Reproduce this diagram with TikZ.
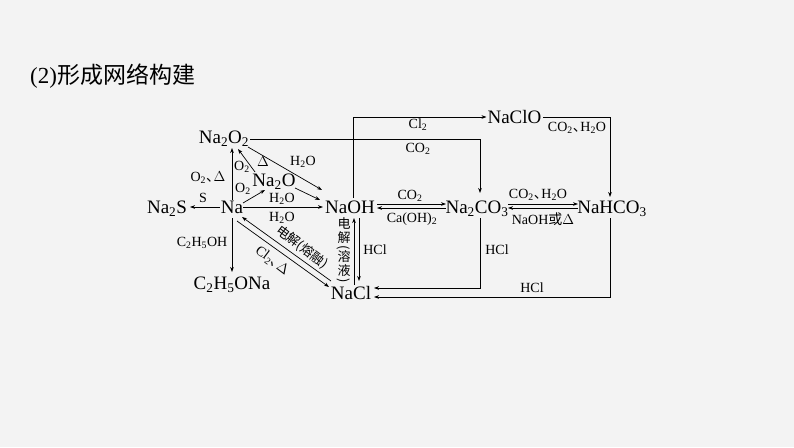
\documentclass[tikz,border=0pt]{standalone}
\usepackage{fontspec}
\usepackage{graphicx}
\setmainfont{Liberation Serif}
\newfontfamily\cjk{Noto Sans CJK SC}
\usetikzlibrary{arrows.meta}
\newcommand\sbs[1]{\textsubscript{#1}}
\newcommand\dun{\hbox to 0.55em{\cjk 、\hss}}
\newcommand\vchar[1]{\hbox to 1em{\hss\vrule height 0.86em depth 0.14em width 0pt #1\hss}}
\newcommand\vpar[1]{\hbox to 1em{\hss\rotatebox{-90}{#1}\hss}}
\definecolor{bgc}{RGB}{243,243,243}
\begin{document}
\begin{tikzpicture}[x=1pt,y=-1pt,
  chem/.style={inner sep=0pt, font=\fontsize{19}{20}\selectfont, text height=13pt, text depth=4pt},
  lab/.style={inner sep=0pt, font=\fontsize{14}{15}\selectfont, text height=10pt, text depth=3pt},
  cjklab/.style={inner sep=0pt, font=\fontsize{13}{13}\selectfont},
  arr/.style={-{Stealth[length=5pt,width=3.6pt]}, line width=0.7pt},
]
\fill[bgc] (0,0) rectangle (794,447);
\useasboundingbox (0,0) rectangle (794,447);

\node[anchor=base west, inner sep=0pt, font=\fontsize{23}{25}\selectfont] (title) at (30,83) {(2)\cjk 形成网络构建};

% main species
\node[chem] (na2o2) at (224,139) {Na\sbs{2}O\sbs{2}};
\node[chem] (na2o) at (274,182) {Na\sbs{2}O};
\node[chem] (na) at (232,209) {Na};
\node[chem] (na2s) at (167,209) {Na\sbs{2}S};
\node[chem] (naoh) at (350,209) {NaOH};
\node[chem] (na2co3) at (477,209) {Na\sbs{2}CO\sbs{3}};
\node[chem] (nahco3) at (612,209) {NaHCO\sbs{3}};
\node[chem] (naclo) at (514.5,119) {NaClO};
\node[chem] (c2h5ona) at (232,285) {C\sbs{2}H\sbs{5}ONa};
\node[chem] (nacl) at (351,295) {NaCl};

% connectors
\draw[arr] ([shift={(0,-9)}]na.center) -- ([shift={(8,9)}]na2o2.center);
\draw[arr] ([shift={(-19,-10)}]na2o.center) -- ([shift={(14,10)}]na2o2.center);
\draw[arr] ([shift={(11,-6)}]na.center) -- ([shift={(-9,8)}]na2o.center);
\draw[arr] ([shift={(24,8)}]na2o2.center) -- ([shift={(-28,-19)}]naoh.center);
\draw[arr] ([shift={(21,6)}]na2o.center) -- ([shift={(-30,-9)}]naoh.center);
\draw[arr] ([shift={(11,-2)}]na.center) -- ([shift={(-27,-2)}]naoh.center);
\draw[arr] ([shift={(-12,-2)}]na.center) -- ([shift={(23,-2)}]na2s.center);
\draw[arr] ([shift={(0,9)}]na.center) -- ([shift={(0,-13)}]c2h5ona.center);
\draw[arr] ([shift={(-20,-14)}]nacl.center) -- ([shift={(10,8)}]na.center);
\draw[arr] ([shift={(5,12)}]na.center) -- ([shift={(-22,-8)}]nacl.center);

\draw[arr] ([shift={(3,-11)}]naoh.center) |- ([shift={(-28,-2)}]naclo.center);
\draw[arr] ([shift={(26,0)}]na2o2.center) -| ([shift={(3,-16)}]na2co3.center);
\draw[arr] ([shift={(28.5,-2)}]naclo.center) -| ([shift={(-2,-12)}]nahco3.center);

\draw[arr] ([shift={(27,-5)}]naoh.center) -- ([shift={(-31,-5)}]na2co3.center);
\draw[arr] ([shift={(-31,-1)}]na2co3.center) -- ([shift={(27,-1)}]naoh.center);
\draw[arr] ([shift={(31,-5)}]na2co3.center) -- ([shift={(-34,-5)}]nahco3.center);
\draw[arr] ([shift={(-34,-1)}]nahco3.center) -- ([shift={(31,-1)}]na2co3.center);

\draw[arr] ([shift={(3,-10)}]nacl.center) -- ([shift={(4,9)}]naoh.center);
\draw[arr] ([shift={(9,9)}]naoh.center) -- ([shift={(8,-14)}]nacl.center);
\draw[arr] ([shift={(3,9)}]na2co3.center) |- ([shift={(23,-7)}]nacl.center);
\draw[arr] ([shift={(-2,9)}]nahco3.center) |- ([shift={(23,2)}]nacl.center);

% labels
\node[lab] (l1) at (208,178) {O\sbs{2}\dun$\Delta$};
\node[lab] (l2) at (242,167) {O\sbs{2}};
\node[lab] (l3) at (263,163) {$\Delta$};
\node[lab] (l4) at (243,189) {O\sbs{2}};
\node[lab] (l5) at (203,199) {S};
\node[lab] (l6) at (303,162) {H\sbs{2}O};
\node[lab] (l7) at (282,199) {H\sbs{2}O};
\node[lab] (l8) at (282,218) {H\sbs{2}O};
\node[lab] (l9) at (202,243) {C\sbs{2}H\sbs{5}OH};
\node[lab] (l10) at (418,125) {Cl\sbs{2}};
\node[lab] (l11) at (418,149) {CO\sbs{2}};
\node[lab] (l12) at (577,128) {CO\sbs{2}\dun H\sbs{2}O};
\node[lab] (l13) at (410,196) {CO\sbs{2}};
\node[lab] (l14) at (412,219) {Ca(OH)\sbs{2}};
\node[lab] (l15) at (538,195) {CO\sbs{2}\dun H\sbs{2}O};
\node[lab] (l16) at (543,221) {NaOH{\cjk 或}$\Delta$};
\node[lab] (l17) at (375,251) {HCl};
\node[lab] (l18) at (497,251) {HCl};
\node[lab] (l19) at (532,289) {HCl};
\node[cjklab, rotate=-37] (l20) at (302,247) {\cjk 电解(熔融)};
\node[lab, rotate=-37] (l21) at (272,261) {Cl\sbs{2}\dun$\Delta$};
\node[cjklab] (l22) at (344,250) {\cjk\vbox{\offinterlineskip\lineskip=0.8pt
  \vchar{电}\vchar{解}\vpar{(}\vchar{溶}\vchar{液}\vpar{)}}};
\end{tikzpicture}
\end{document}
